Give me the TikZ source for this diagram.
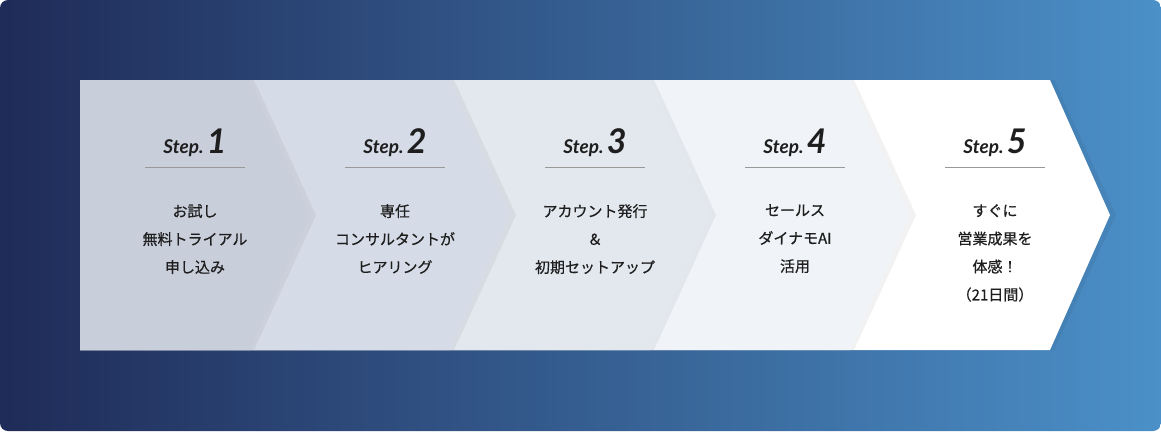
\documentclass[tikz,border=0pt]{standalone}
\usepackage{fontspec}
\setsansfont{Lato}
\newfontfamily\jpfont[FakeBold=0.6]{Noto Sans CJK JP}
\usetikzlibrary{positioning}
\definecolor{navyL}{HTML}{1F2B58}
\definecolor{blueR}{HTML}{4B90C8}
\definecolor{fillA}{HTML}{C9CEDB}
\definecolor{fillB}{HTML}{D6DCE7}
\definecolor{fillC}{HTML}{E3E8EF}
\definecolor{fillD}{HTML}{F0F3F7}
\definecolor{fillE}{HTML}{FFFFFF}
\definecolor{ink}{HTML}{1E1E1E}
\begin{document}
\begin{tikzpicture}
    [
    x=1pt, y=-1pt,
    steplabel/.style={font=\sffamily\bfseries\itshape\fontsize{19}{19}\selectfont, text=ink, inner sep=0pt},
    stepbody/.style={font=\jpfont\fontsize{15}{28}\selectfont, text=ink, align=center, inner sep=0pt},
    rule/.style={draw=gray!80, line width=0.9pt},
    ]
    \useasboundingbox (0,0) rectangle (1161,431);
    \shade[left color=navyL, right color=blueR, rounded corners=8pt] (0,0) rectangle (1161,431);

    % chevrons, drawn from the last one so that each tip lies on the next
    \foreach \i/\col in {5/fillE,4/fillD,3/fillC,2/fillB,1/fillA} {
      \pgfmathsetmacro{\xr}{50+200*\i}
      \fill[black, opacity=0.05] (80,80) -- (\xr+4,80) -- (\xr+66,215) -- (\xr+4,350) -- (80,350) -- cycle;
      \fill[\col] (80,80) -- (\xr,80) -- (\xr+60,215) -- (\xr,350) -- (80,350) -- cycle;
    }

    \foreach \i/\body in {1/{お試し\\無料トライアル\\申し込み},
                          2/{専任\\コンサルタントが\\ヒアリング},
                          3/{アカウント発行\\＆\\初期セットアップ},
                          4/{セールス\\ダイナモAI\\活用},
                          5/{すぐに\\営業成果を\\体感！\\（21日間）}} {
      \pgfmathsetmacro{\xc}{-5+200*\i}
      \node[steplabel, anchor=base] (s\i) at (\xc,153) {Step.\,{\fontsize{34}{34}\selectfont\i}};
      \draw[rule] (\xc-50,167) -- (\xc+50,167);
      \node[stepbody, anchor=north] (b\i) at (\xc,204) {\body};
    }
  \end{tikzpicture}
\end{document}
